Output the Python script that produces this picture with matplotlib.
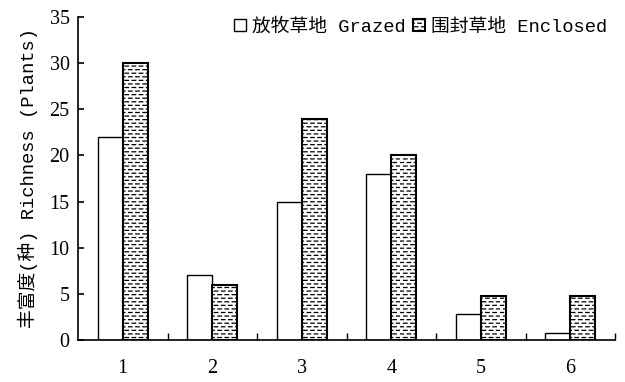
import numpy as np
import matplotlib
matplotlib.use("Agg")
import matplotlib.pyplot as plt
import matplotlib.hatch as mhatch
from matplotlib.path import Path

# ---- data ----
categories = ["1", "2", "3", "4", "5", "6"]
grazed = [22, 7, 15, 18, 2.8, 0.8]
enclosed = [30, 6, 24, 20, 4.8, 4.8]
series_labels = ["放牧草地 Grazed", "围封草地 Enclosed"]
ylabel = "丰富度(种) Richness (Plants)"
yticks = [0, 5, 10, 15, 20, 25, 30, 35]


# ---- custom dashed hatch (broken horizontal lines) ----
class DashHatch(mhatch.HatchPatternBase):
    rows = 28
    per_row = 14
    dash = 0.035

    def __init__(self, hatch, density):
        if '-' in hatch:
            self.num_vertices = self.rows * self.per_row * 2
        else:
            self.num_vertices = 0

    def set_vertices_and_codes(self, vertices, codes):
        k = 0
        for r in range(self.rows):
            y = (r + 0.5) / self.rows
            off = 0.0 if r % 2 == 0 else 0.5 / self.per_row
            for c in range(self.per_row):
                x0 = c / self.per_row + off
                vertices[k] = (x0, y)
                vertices[k + 1] = (x0 + self.dash, y)
                codes[k] = Path.MOVETO
                codes[k + 1] = Path.LINETO
                k += 2


mhatch._hatch_types = [DashHatch]

plt.rcParams['hatch.linewidth'] = 0.9
plt.rcParams['hatch.color'] = '#555555'

mix = ['Liberation Mono', 'Noto Sans CJK SC']

fig = plt.figure(figsize=(6.25, 3.82), dpi=100)
ax = fig.add_axes([0.1248, 0.110, 0.8592, 0.8455])

x = np.arange(1, len(categories) + 1)
w = 0.28
b1 = ax.bar(x - w / 2, grazed, w, color='white', edgecolor='black',
            linewidth=1.0, label=series_labels[0])
b2 = ax.bar(x + w / 2, enclosed, w, color='white', edgecolor='black',
            linewidth=1.5, hatch='-', label=series_labels[1])

ax.set_xlim(0.5, 6.5)
ax.set_ylim(0, 35)
ax.set_yticks(yticks)
ax.set_xticks(x)
ax.set_xticklabels(categories)
ax.set_xticks(np.arange(1.5, 6.6, 1), minor=True)

for s in ['top', 'right']:
    ax.spines[s].set_visible(False)
ax.spines['left'].set_linewidth(1.2)
ax.spines['bottom'].set_linewidth(1.2)

ax.tick_params(axis='y', direction='in', length=4, width=1.2, pad=6,
               labelsize=14.5)
ax.tick_params(axis='x', which='major', length=0, pad=14, labelsize=14.5)
ax.tick_params(axis='x', which='minor', direction='in', length=5, width=1.0)
for lab in ax.get_xticklabels() + ax.get_yticklabels():
    lab.set_fontfamily('Liberation Serif')

ax.set_ylabel(ylabel, fontsize=13.5, family=mix, labelpad=8)

leg = ax.legend(loc='upper right', ncol=2, frameon=False,
                prop={'family': mix, 'size': 13.5},
                handlelength=0.6, handleheight=0.6, handletextpad=0.35,
                columnspacing=0.4, borderaxespad=0.0,
                bbox_to_anchor=(1.0, 1.02))

fig.savefig('out.png', dpi=100)
